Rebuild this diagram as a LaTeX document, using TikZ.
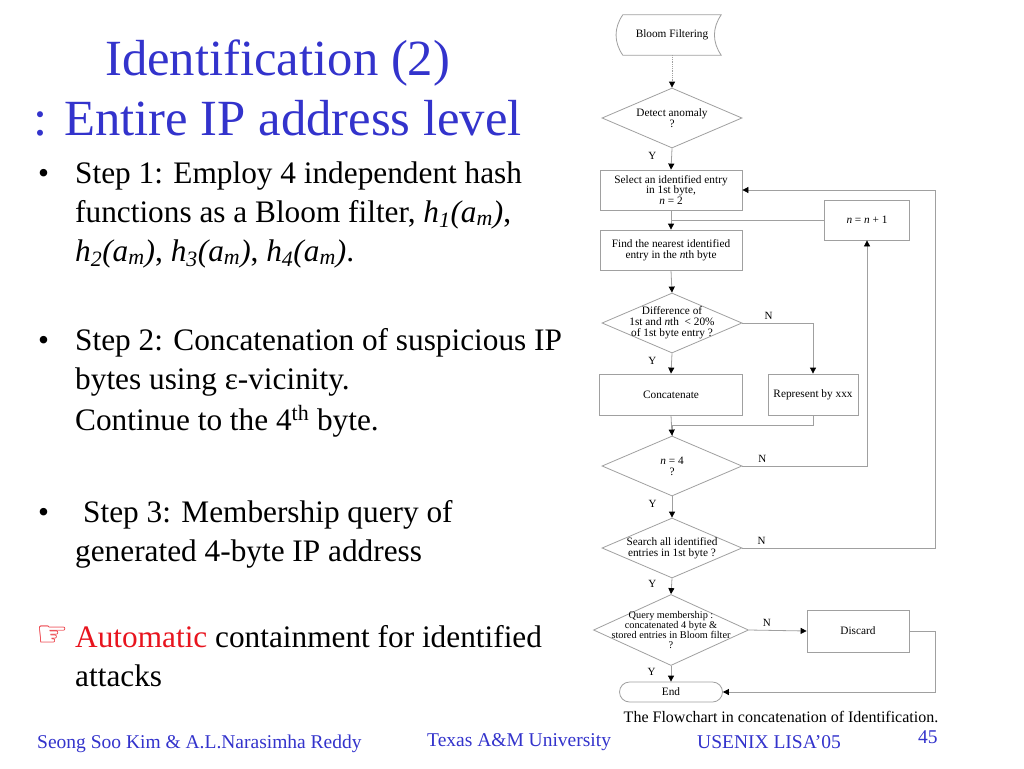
\documentclass[tikz,border=0pt]{standalone}
\usepackage{fontspec}
\setmainfont{Liberation Serif}
\newfontfamily\symfont{DejaVu Sans}
\usepackage{tikz}
\usetikzlibrary{arrows.meta, shapes.geometric, shapes.misc}
\definecolor{titleblue}{RGB}{51,51,204}
\definecolor{alertred}{RGB}{232,20,30}
\definecolor{flowgray}{RGB}{160,160,160}
\newcommand{\hashfn}[1]{\textit{h}\textsubscript{\textit{#1}}\textit{(a}\textsubscript{\textit{m}}\textit{)}}
\tikzset{
fbox/.style = {rectangle, draw=flowgray, line width=0.8pt, minimum width=#1,
               minimum height=40pt, inner sep=0pt, align=center,
               font=\fontsize{11.3}{10.6}\selectfont},
fbox/.default = 142pt % width of the box
}
\tikzset{
decision/.style = {diamond, draw=flowgray, line width=0.8pt, minimum width=140pt,
                   minimum height=60pt, inner sep=0pt,
                   label={[align=center, font=\fontsize{11.3}{10.8}\selectfont]center:#1}}
}
\tikzset{
yn/.style = {font=\fontsize{11}{12}\selectfont, inner sep=0pt},
line/.style = {draw=flowgray, line width=0.8pt},
flow/.style = {line, -{Triangle[length=6pt, width=6pt, color=black]}},
slide/.style = {anchor=base west, inner sep=0pt, font=\fontsize{31.3}{38}\selectfont},
foot/.style = {anchor=base west, inner sep=0pt, text=titleblue, font=\fontsize{19.5}{22}\selectfont}
}

\begin{document}
\begin{tikzpicture}[x=1pt, y=-1pt]
    \fill[white] (0,0) rectangle (1024,768);
    \useasboundingbox (0,0) rectangle (1024,768);

    % left column
    \node[slide, text=titleblue, font=\fontsize{50.7}{60}\selectfont] (title1) at (105,75) {Identification (2)};
    \node[slide, text=titleblue, font=\fontsize{50.7}{60}\selectfont] (title2) at (33,135) {: Entire IP address level};

    \foreach \by/\bn in {183/bullet1, 350/bullet2, 522/bullet3}
        \node[slide] (\bn) at (38,\by) {•};
    \node[slide] (step1a) at (75,183) {Step 1: Employ 4 independent hash};
    \node[slide] (step1b) at (75,222) {functions as a Bloom filter, \hashfn{1},};
    \node[slide] (step1c) at (75,261) {\hashfn{2}, \hashfn{3}, \hashfn{4}.};
    \node[slide] (step2a) at (75,350) {Step 2: Concatenation of suspicious IP};
    \node[slide] (step2b) at (75,389) {bytes using ε-vicinity.};
    \node[slide] (step2c) at (75,430) {Continue to the 4\textsuperscript{th} byte.};
    \node[slide] (step3a) at (83,522) {Step 3: Membership query of};
    \node[slide] (step3b) at (75,561) {generated 4-byte IP address};
    \node[slide, text=alertred, font=\fontsize{36}{40}\symfont] (hand) at (36,646) {☞};
    \node[slide] (autoa) at (75,647) {\textcolor{alertred}{Automatic} containment for identified};
    \node[slide] (autob) at (75,686) {attacks};

    % flowchart
    \node[minimum width=98pt, minimum height=40pt, inner sep=0pt,
          font=\fontsize{11.3}{10}\selectfont] (bloom) at (672,35) {Bloom Filtering};
    \draw[line] (bloom.north west) -- (bloom.north east)
        .. controls +(-9,13) and +(-9,-13) .. (bloom.south east) -- (bloom.south west)
        .. controls +(-9,-13) and +(-9,13) .. (bloom.north west) -- cycle;

    \node[decision={Detect anomaly\\?}] (detect) at (672,118) {};
    \node[fbox] (select) at (671,190) {Select an identified entry\\in 1st byte,\\\textit{n} = 2};
    \node[fbox=85pt] (incr) at (867,220) {\textit{n} = \textit{n} + 1};
    \node[fbox] (find) at (671,250) {Find the nearest identified\\entry in the \textit{n}th byte};
    \node[decision={Difference of\\1st and \textit{n}th \ < 20\%\\of 1st byte entry ?}] (diff) at (672,323) {};
    \node[fbox=143pt, minimum height=41pt] (concat) at (671,394.5) {Concatenate};
    \node[fbox=90pt, minimum height=41pt] (repr) at (813,394.5) {Represent by xxx};
    \node[decision={\textit{n} = 4\\?}] (nfour) at (672,466) {};
    \node[decision={Search all identified\\entries in 1st byte ?}] (search) at (672,548) {};
    \node[diamond, draw=flowgray, line width=0.8pt, minimum width=155pt, minimum height=71pt, inner sep=0pt,
          label={[align=center, font=\fontsize{10.3}{9.8}\selectfont]center:Query membership :\\concatenated 4 byte \&\\stored entries in Bloom filter\\?}] (query) at (671,630) {};
    \node[fbox=102pt, minimum height=42pt] (discard) at (858,631) {Discard};
    \node[rounded rectangle, draw=flowgray, line width=0.8pt, minimum width=103pt, minimum height=20pt,
          inner sep=0pt, font=\fontsize{11.3}{10}\selectfont] (end) at (671,692) {End};

    \draw[flow, densely dotted] (bloom.south) -- (detect.north);
    \draw[flow] (detect.south) -- node[yn, pos=0.35, left=15pt]{Y} (select.north);
    \draw[flow] (select.south) -- (find.north);
    \draw[line] (incr.west) -- (incr.west -| find.north);
    \draw[flow] (find.south) -- (diff.north);
    \draw[flow] (diff.east) -- node[yn, pos=0.37, above=3.5pt]{N} (diff.east -| repr.north) -- (repr.north);
    \draw[flow] (diff.south) -- node[yn, pos=0.35, left=15pt]{Y} (concat.north);
    \draw[line] (repr.south) -- ++(0,10) -| (nfour.north);
    \draw[flow] (concat.south) -- (nfour.north);
    \draw[flow] (nfour.east) -- node[yn, pos=0.16, above=3.5pt]{N} (nfour.east -| incr.south) -- (incr.south);
    \draw[flow] (nfour.south) -- node[yn, pos=0.35, left=15pt]{Y} (search.north);
    \draw[flow] (search.east) -- node[yn, pos=0.1, above=3.5pt]{N} ++(193,0) |- (select.east);
    \draw[flow] (search.south) -- node[yn, pos=0.35, left=15pt]{Y} (query.north);
    \draw[flow] (query.east) -- node[yn, pos=0.31, above=3.5pt]{N} (discard.west);
    \draw[flow] (discard.east) -- ++(26,0) |- (end.east);
    \draw[flow] (query.south) -- node[yn, pos=0.4, left=15pt]{Y} (end.north);

    \node[anchor=base, inner sep=0pt, font=\fontsize{16}{18}\selectfont] (caption) at (781,722)
        {The Flowchart in concatenation of Identification.};

    % footer
    \node[foot] (authors) at (37,748) {Seong Soo Kim \& A.L.Narasimha Reddy};
    \node[foot] (univ) at (427,746) {Texas A\&M University};
    \node[foot] (conf) at (697,748) {USENIX LISA’05};
    \node[foot] (page) at (918,743) {45};
\end{tikzpicture}
\end{document}
